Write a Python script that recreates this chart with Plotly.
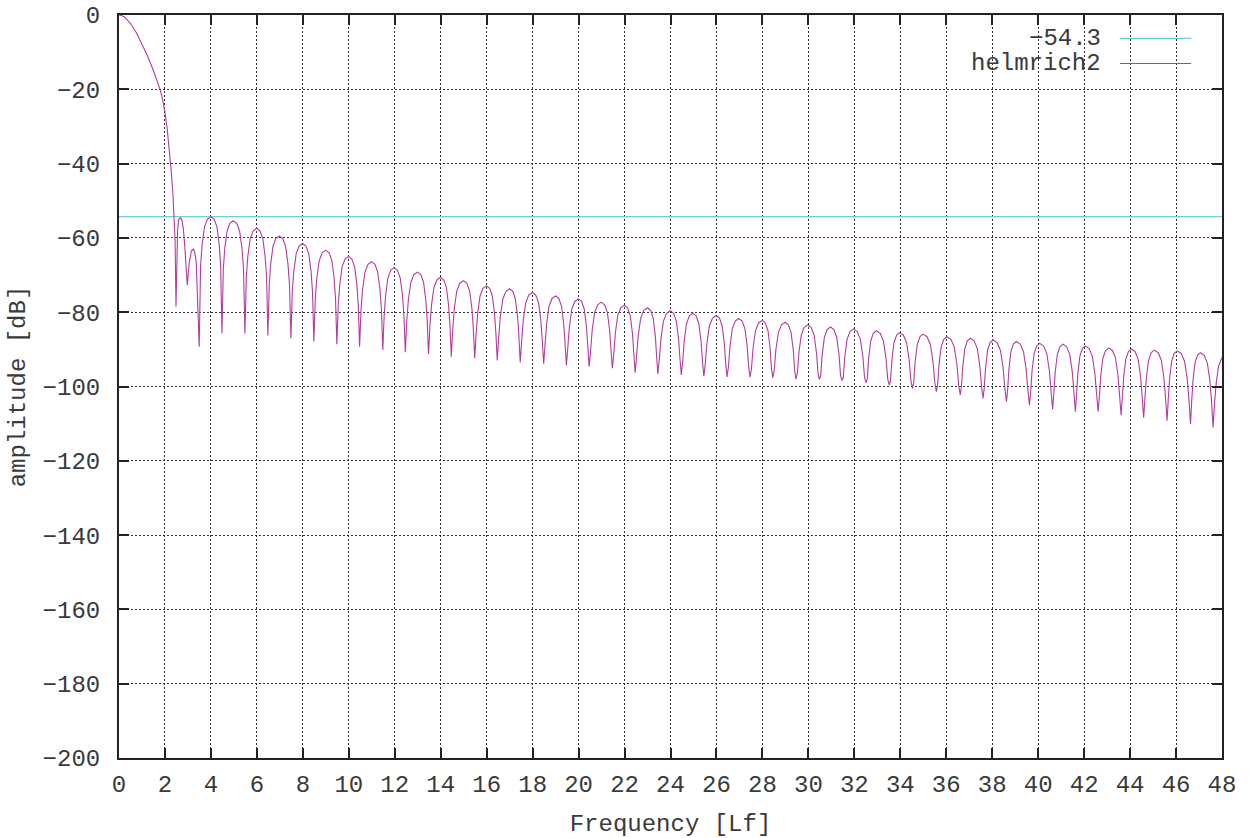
import plotly.graph_objects as go

# ---------------- data ----------------
X_RANGE = [0, 48]
Y_RANGE = [-200, 0]
X_TICKS = list(range(0, 49, 2))
Y_TICKS = list(range(-200, 1, 20))

THRESHOLD_DB = -54.3
THRESHOLD_NAME = "\u221254.3"
CURVE_NAME = "helmrich2"

# main lobe and the two irregular first side lobes (explicit samples)
MAIN_F = [0, 0.1, 0.25, 0.5, 0.75, 1.0, 1.25, 1.5, 1.6, 1.7,
          1.8, 1.9, 2.0, 2.1, 2.2, 2.28, 2.35, 2.4, 2.44, 2.48,
          2.55, 2.6, 2.67, 2.73, 2.8, 2.86, 2.97, 3.05, 3.15, 3.24,
          3.3, 3.36, 3.42]
MAIN_DB = [0, -0.1, -0.6, -2.3, -4.7, -7.7, -11.1, -15.0, -16.7, -18.5,
           -20.3, -22.8, -26.2, -30.8, -36.8, -42.5, -48.5, -53.5, -60.5, -78.5,
           -58.0, -55.0, -54.6, -55.0, -57.5, -62.0, -72.7, -67.0, -63.5, -63.0,
           -64.0, -66.5, -75.0]

# regular side lobes: peak positions / levels
PEAK_F = [4.0, 4.97, 5.99, 6.97, 7.99, 9.0, 9.99, 10.99, 11.97, 12.99,
          13.99, 14.99, 15.99, 17.0, 17.99, 19.0, 19.99, 20.99, 21.99, 23.0,
          23.99, 24.97, 25.99, 26.97, 27.99, 28.99, 29.97, 30.96, 31.96, 32.96,
          33.97, 34.99, 36.03, 37.05, 38.04, 39.05, 40.07, 41.08, 42.05, 43.07,
          44.06, 45.06, 46.05, 47.06]
PEAK_DB = [-54.3, -55.4, -57.4, -59.5, -61.5, -63.3, -65.0, -66.4, -68.0, -69.2,
           -70.6, -71.5, -72.9, -73.7, -74.7, -75.6, -76.4, -77.3, -78.1, -78.8,
           -79.6, -80.3, -80.9, -81.7, -82.2, -82.7, -83.4, -84.0, -84.5, -85.0,
           -85.5, -85.9, -86.6, -87.0, -87.5, -87.9, -88.4, -88.6, -89.1, -89.6,
           -89.9, -90.2, -90.4, -90.9]

# nulls between the side lobes (sampled minima)
NULL_F = [3.49, 4.48, 5.48, 6.48, 7.48, 8.48, 9.48, 10.47, 11.48, 12.46,
          13.47, 14.46, 15.48, 16.46, 17.46, 18.48, 19.47, 20.46, 21.47, 22.46,
          23.45, 24.47, 25.45, 26.46, 27.46, 28.45, 29.46, 30.48, 31.46, 32.51,
          33.52, 34.53, 35.57, 36.61, 37.6, 38.62, 39.62, 40.63, 41.62, 42.61,
          43.61, 44.59, 45.61, 46.63, 47.61]
NULL_DB = [-89.3, -85.7, -85.7, -86.3, -87.0, -87.9, -88.6, -89.3, -90.2, -90.8,
           -91.3, -92.0, -92.4, -93.0, -93.5, -93.9, -94.3, -94.7, -95.1, -96.3,
           -96.6, -96.9, -97.2, -97.4, -97.5, -97.6, -98.0, -98.1, -98.4, -99.0,
           -99.6, -100.5, -101.4, -102.3, -103.2, -104.1, -105.0, -106.1, -106.8, -106.8,
           -107.7, -108.4, -109.2, -110.1, -111.0]

# measured side-lobe profile: fraction of peak-to-null distance vs. drop below peak (dB)
PROFILE_FRAC = [0.3, 0.55, 0.75, 0.88]
PROFILE_DROP = [0.7, 2.8, 7.5, 13.0]

# last partial lobe running into the right border
TAIL_F = [47.68, 47.75, 47.85, 48.0]
TAIL_DB = [-104.0, -99.0, -94.5, -92.2]

# ---------------- build the curve ----------------
xs = list(MAIN_F)
ys = list(MAIN_DB)
for i, (pf, pd) in enumerate(zip(PEAK_F, PEAK_DB)):
    lf, ld = NULL_F[i], NULL_DB[i]
    rf = NULL_F[i + 1]
    xs.append(lf)
    ys.append(ld)
    for fr, dr in zip(reversed(PROFILE_FRAC), reversed(PROFILE_DROP)):
        xs.append(pf - fr * (pf - lf))
        ys.append(pd - dr)
    xs.append(pf)
    ys.append(pd)
    for fr, dr in zip(PROFILE_FRAC, PROFILE_DROP):
        xs.append(pf + fr * (rf - pf))
        ys.append(pd - dr)
xs.append(NULL_F[-1])
ys.append(NULL_DB[-1])
xs += TAIL_F
ys += TAIL_DB

CYAN = "#6fd0dc"
MAGENTA = "#b23d9d"
FONT = "Liberation Mono"
TXT = "#3a3a3a"
FS = 24

fig = go.Figure()
fig.add_trace(go.Scatter(x=X_RANGE, y=[THRESHOLD_DB, THRESHOLD_DB], mode="lines",
                         line=dict(color=CYAN, width=1.2), name=THRESHOLD_NAME,
                         hoverinfo="skip"))
fig.add_trace(go.Scatter(x=xs, y=ys, mode="lines",
                         line=dict(color=MAGENTA, width=1.1), name=CURVE_NAME))

axis_common = dict(
    showline=True, linecolor="#222222", linewidth=2, mirror="ticks",
    ticks="inside", ticklen=10, tickwidth=1.5, tickcolor="#222222",
    showgrid=True, gridcolor="#333333", gridwidth=1, griddash="1.5px,2.5px",
    zeroline=False, tickfont=dict(family=FONT, size=FS, color=TXT),
    ticklabeloverflow="allow",
)

fig.update_layout(
    width=1253, height=838,
    margin=dict(l=119, r=31, t=15, b=80, autoexpand=False),
    paper_bgcolor="white", plot_bgcolor="white",
    showlegend=False,
    font=dict(family=FONT, size=FS, color=TXT),
    xaxis=dict(range=X_RANGE, tickvals=X_TICKS, ticklabelstandoff=3,
               title=dict(text="Frequency [Lf]", standoff=18,
                          font=dict(family=FONT, size=FS, color=TXT)),
               **axis_common),
    yaxis=dict(range=Y_RANGE, tickvals=Y_TICKS, ticklabelstandoff=12,
               title=dict(text="amplitude [dB]", standoff=10,
                          font=dict(family=FONT, size=FS, color=TXT)),
               **axis_common),
)

# gnuplot-style key: text right-aligned, line sample to its right
key_rows = [(THRESHOLD_NAME, CYAN, 0.9686), (CURVE_NAME, MAGENTA, 0.9347)]
for name, col, yp in key_rows:
    fig.add_annotation(x=0.892, y=yp, xref="paper", yref="paper", text=name,
                       showarrow=False, xanchor="right", yanchor="middle",
                       font=dict(family=FONT, size=FS, color=TXT))
    fig.add_shape(type="line", xref="paper", yref="paper", x0=0.9075, x1=0.972,
                  y0=yp, y1=yp, line=dict(color=col, width=1.2))

# remove the default 8px page margin so the figure fills the window exactly
fig.write_html("out.html",
               config={"displayModeBar": False},
               post_script="document.body.style.margin='0';"
                           "document.body.style.overflow='hidden';")
